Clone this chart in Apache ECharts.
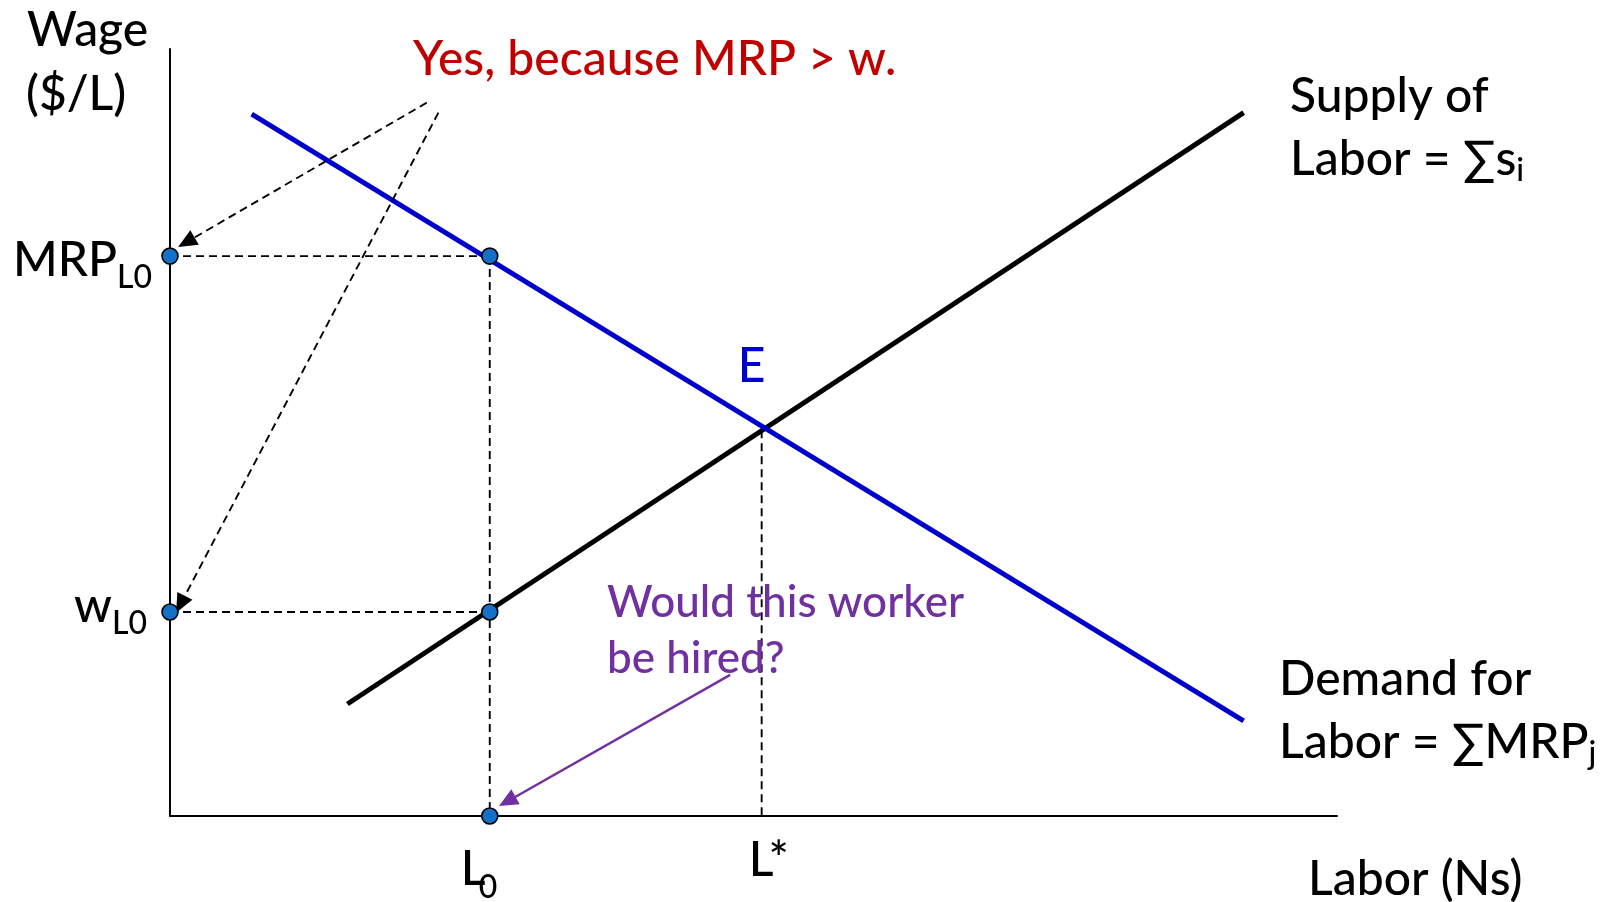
<!DOCTYPE html>
<html>
<head>
<meta charset="utf-8">
<script src="https://cdn.jsdelivr.net/npm/echarts@6/dist/echarts.min.js"></script>
<style>
html,body{margin:0;padding:0;background:#fff;}
#chart{width:1600px;height:902px;}
</style>
</head>
<body>
<div id="chart"></div>
<script>
// ---- data (labor on x, wage on y, 0..100 scale) ----
const demandLabor = [7.0, 92.0];
const demandWage  = [91.5, 12.4];
const supplyLabor = [15.2, 92.0];
const supplyWage  = [14.6, 91.7];
const laborL0 = 27.4;      // L0
const mrpL0 = 73.0;        // MRP at L0
const wageL0 = 26.6;       // w at L0
const laborStar = 50.7;    // L*
const wageStar = 50.3;     // equilibrium wage (E)
// annotation arrows: [fromLabor, fromWage, toLabor, toWage]
const arrowYesMRP = [22.0, 93.0, 1.4, 74.8];
const arrowYesW   = [23.0, 91.7, 0.9, 27.6];
const arrowHired  = [48.0, 18.4, 28.9, 1.9];
// texts
const yAxisTitle = ['Wage', '($/L)'];
const xAxisTitle = 'Labor (Ns)';
const yTickLabels = [['MRP', 'L0'], ['w', 'L0']];
const xTickLabels = [['L', '0'], ['L*', '']];

const FONT = 'Lato, "Open Sans", "DejaVu Sans", sans-serif';
const WEIGHT = '500';
const chart = echarts.init(document.getElementById('chart'), null, {renderer: 'canvas'});

function pairs(xs, ys) { return xs.map((x, i) => [x, ys[i]]); }

const dash = {type: [8, 5], width: 1.9, color: '#000'};

const option = {
  animation: false,
  backgroundColor: '#fff',
  grid: {left: 170, right: 263, top: 49, bottom: 86},
  xAxis: {
    type: 'value', min: 0, max: 100,
    axisLine: {show: true, onZero: false, lineStyle: {color: '#000', width: 2}},
    axisTick: {show: false}, axisLabel: {show: false}, splitLine: {show: false}
  },
  yAxis: {
    type: 'value', min: 0, max: 100,
    axisLine: {show: true, onZero: false, lineStyle: {color: '#000', width: 2}},
    axisTick: {show: false}, axisLabel: {show: false}, splitLine: {show: false}
  },
  series: [
    {type: 'line', name: 'dashMRP', data: [[0, mrpL0], [laborL0, mrpL0]], showSymbol: false, lineStyle: dash, silent: true},
    {type: 'line', name: 'dashW', data: [[0, wageL0], [laborL0, wageL0]], showSymbol: false, lineStyle: dash, silent: true},
    {type: 'line', name: 'dashL0', data: [[laborL0, mrpL0], [laborL0, 0]], showSymbol: false, lineStyle: dash, silent: true},
    {type: 'line', name: 'dashLstar', data: [[laborStar, wageStar], [laborStar, 0]], showSymbol: false, lineStyle: dash, silent: true},
    {type: 'line', name: 'Supply', data: pairs(supplyLabor, supplyWage), showSymbol: false,
      lineStyle: {color: '#000', width: 5}, silent: true, z: 3},
    {type: 'line', name: 'Demand', data: pairs(demandLabor, demandWage), showSymbol: false,
      lineStyle: {color: '#0000CC', width: 5}, silent: true, z: 3},
    {type: 'line', name: 'arrows', data: [], silent: true,
      markLine: {
        silent: true, animation: false,
        symbol: ['none', 'triangle'], symbolSize: [17, 19],
        label: {show: false},
        lineStyle: {color: '#000', width: 1.9, type: [8, 5]},
        emphasis: {disabled: true},
        data: [
          [{coord: [arrowYesMRP[0], arrowYesMRP[1]]}, {coord: [arrowYesMRP[2], arrowYesMRP[3]]}],
          [{coord: [arrowYesW[0], arrowYesW[1]]}, {coord: [arrowYesW[2], arrowYesW[3]]}],
          [{coord: [arrowHired[0], arrowHired[1]]}, {coord: [arrowHired[2], arrowHired[3]],
            lineStyle: {color: '#7030A0', width: 2.4, type: 'solid'}}]
        ]
      }},
    {type: 'scatter', name: 'points', clip: false, z: 5, silent: true,
      symbolSize: 16,
      itemStyle: {color: '#1570C8', borderColor: '#000', borderWidth: 1.6, opacity: 1},
      data: [[0, mrpL0], [laborL0, mrpL0], [0, wageL0], [laborL0, wageL0], [laborL0, 0]]}
  ]
};
chart.setOption(option);

function fnt(size) { return WEIGHT + ' ' + size + 'px ' + FONT; }
// text helper: x = left edge (or align), baseline in px
function txt(x, baseline, s, size, color, align) {
  return {type: 'text', x: x, y: baseline - 0.32 * size, silent: true, z: 10,
    style: {text: s, font: fnt(size), fill: color || '#000',
      align: align || 'left', verticalAlign: 'middle'}};
}
const P = (a, b) => chart.convertToPixel({gridIndex: 0}, [a, b]);

const big = 48, sub = 32, mid = 44;
const g = [];
// axis titles
g.push(txt(27, 46, yAxisTitle[0], big));
g.push(txt(26, 110, yAxisTitle[1], big));
g.push(txt(1308, 895, xAxisTitle, big));
// y tick labels
const pM = P(0, mrpL0), pW = P(0, wageL0);
g.push(txt(pM[0] - 53, pM[1] + 20, yTickLabels[0][0], big, '#000', 'right'));
g.push(txt(pM[0] - 53, pM[1] + 32, yTickLabels[0][1], sub));
g.push(txt(pW[0] - 58, pW[1] + 10, yTickLabels[1][0], big, '#000', 'right'));
g.push(txt(pW[0] - 58, pW[1] + 22, yTickLabels[1][1], sub));
// x tick labels
const pL0 = P(laborL0, 0), pLs = P(laborStar, 0);
g.push(txt(pL0[0] - 29, pL0[1] + 69, xTickLabels[0][0], big));
g.push(txt(pL0[0] - 11, pL0[1] + 82, xTickLabels[0][1], sub));
g.push(txt(pLs[0] - 13, pLs[1] + 60, xTickLabels[1][0], big));
// E
const pE = P(laborStar, wageStar);
g.push(txt(pE[0] - 24, pE[1] - 48, 'E', big, '#0000CC'));
// annotations
g.push(txt(413, 75, 'Yes, because MRP > w.', big, '#C00000'));
g.push(txt(607, 617, 'Would this worker', mid, '#7030A0'));
g.push(txt(607, 673, 'be hired?', mid, '#7030A0'));
g.push(txt(1290, 112, 'Supply of', big));
g.push({type: 'text', x: 1290, y: 175 - 0.32 * big, silent: true, z: 10,
  style: {text: '{m|Labor = ∑s}{s|i}', verticalAlign: 'middle',
    rich: {m: {font: fnt(big), fill: '#000'},
           s: {font: fnt(sub), fill: '#000', padding: [22, 0, 0, 0]}}}});
g.push(txt(1279, 695, 'Demand for', big));
g.push({type: 'text', x: 1279, y: 758 - 0.32 * big, silent: true, z: 10,
  style: {text: '{m|Labor = ∑MRP}{s|j}', verticalAlign: 'middle',
    rich: {m: {font: fnt(big), fill: '#000'},
           s: {font: fnt(sub), fill: '#000', padding: [22, 0, 0, 0]}}}});
chart.setOption({graphic: g});
</script>
</body>
</html>
